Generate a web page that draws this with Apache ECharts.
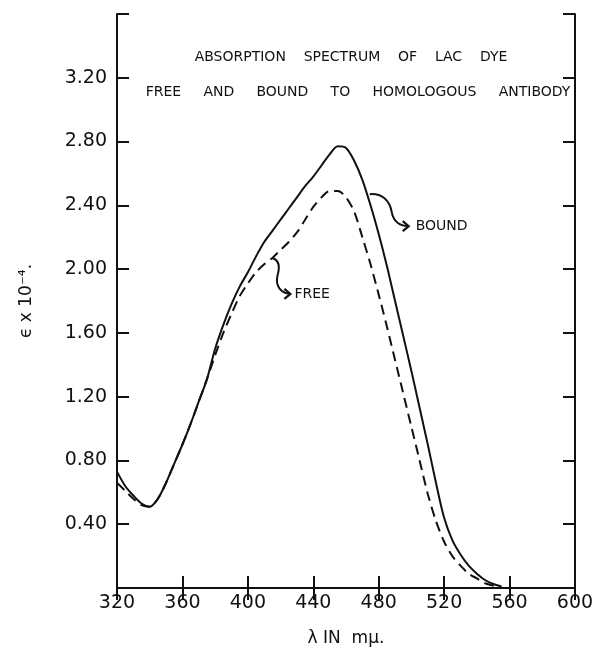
<!DOCTYPE html>
<html>
<head>
<meta charset="utf-8">
<script src="https://cdn.jsdelivr.net/npm/echarts@6/dist/echarts.min.js"></script>
<style>html,body{margin:0;padding:0;background:#fff;}#c{width:599px;height:653px;}</style>
</head>
<body>
<div id="c"></div>
<script>
// Wavelength (mμ) and extinction (ε × 10⁻⁴)
const wavelengths = [320,325,330,335,340,345,350,355,360,365,370,375,380,385,390,395,400,405,410,415,420,425,430,435,440,445,450,455,460,465,470,475,480,485,490,495,500,505,510,515,520,525,530,535,540,545,550,555];
const bound = [0.73,0.64,0.58,0.53,0.51,0.56,0.66,0.78,0.90,1.03,1.17,1.31,1.50,1.65,1.78,1.89,1.98,2.08,2.17,2.24,2.31,2.38,2.45,2.52,2.58,2.65,2.72,2.77,2.76,2.68,2.56,2.40,2.22,2.02,1.80,1.58,1.36,1.13,0.90,0.66,0.44,0.30,0.21,0.14,0.09,0.05,0.025,0.01];
const free = [0.66,0.61,0.56,0.52,0.51,0.56,0.66,0.78,0.90,1.03,1.17,1.31,1.46,1.60,1.72,1.83,1.91,1.98,2.03,2.07,2.12,2.17,2.23,2.31,2.39,2.45,2.49,2.49,2.45,2.36,2.20,2.03,1.84,1.64,1.43,1.22,1.01,0.80,0.59,0.42,0.29,0.20,0.14,0.09,0.06,0.03,0.015,0.005];
const titleLines = ['ABSORPTION    SPECTRUM    OF    LAC    DYE', 'FREE     AND     BOUND     TO     HOMOLOGOUS     ANTIBODY'];
const xName = 'λ IN  mμ.';
const yName = 'ϵ x 10⁻⁴.';
// annotation anchors (data coords)
const boundLabel = {text: 'BOUND', at: [474.5, 2.47]};
const freeLabel = {text: 'FREE', at: [415, 2.07]};

const font = 'DejaVu Sans';
const chart = echarts.init(document.getElementById('c'));
const axisLine = {show: true, lineStyle: {color: '#111', width: 2}};
const tick = {show: true, inside: true, length: 12, lineStyle: {color: '#111', width: 2}};
chart.setOption({
  animation: false,
  backgroundColor: '#fff',
  title: [
    {text: titleLines[0], left: 346, top: 45, textAlign: 'center', textStyle: {fontFamily: font, fontSize: 14, fontWeight: 'normal', color: '#111'}},
    {text: titleLines[1], left: 353, top: 80, textAlign: 'center', textStyle: {fontFamily: font, fontSize: 14, fontWeight: 'normal', color: '#111'}}
  ],
  grid: {left: 117, right: 24, top: 14, bottom: 65},
  xAxis: [
    {type: 'value', min: 320, max: 600, interval: 40, position: 'bottom',
     axisLine, axisTick: tick, splitLine: {show: false},
     axisLabel: {fontFamily: font, fontSize: 19, color: '#111', margin: 6},
     name: xName, nameLocation: 'middle', nameGap: 42,
     nameTextStyle: {fontFamily: font, fontSize: 17, color: '#111'}},
    {type: 'value', min: 320, max: 600, interval: 40, position: 'top',
     axisLine, axisTick: tick, splitLine: {show: false}, axisLabel: {show: false}}
  ],
  yAxis: [
    {type: 'value', min: 0, max: 3.6, interval: 0.4, position: 'left',
     axisLine, axisTick: tick, splitLine: {show: false},
     axisLabel: {fontFamily: font, fontSize: 19, color: '#111', margin: 10,
       formatter: v => (v < 0.01 || v > 3.5) ? '' : v.toFixed(2)},
     name: yName, nameLocation: 'middle', nameGap: 82, nameRotate: 90,
     nameTextStyle: {fontFamily: font, fontSize: 17, color: '#111'}},
    {type: 'value', min: 0, max: 3.6, interval: 0.4, position: 'right',
     axisLine, axisTick: tick, splitLine: {show: false}, axisLabel: {show: false}}
  ],
  series: [
    {name: 'BOUND', type: 'line', data: wavelengths.map((w, i) => [w, bound[i]]),
     smooth: 0.3, showSymbol: false, lineStyle: {color: '#111', width: 2}},
    {name: 'FREE', type: 'line', data: wavelengths.map((w, i) => [w, free[i]]),
     smooth: 0.3, showSymbol: false, lineStyle: {color: '#111', width: 2, type: [10, 6]}}
  ]
});

// curved arrow: two cubic bezier segments (offsets relative to anchor pixel)
function arrowGraphic(anchor, segs, textOff, text) {
  const p = chart.convertToPixel({gridIndex: 0}, anchor);
  const els = segs.map(s => ({
    type: 'bezierCurve', x: p[0], y: p[1],
    shape: {x1: s[0], y1: s[1], cpx1: s[2], cpy1: s[3], cpx2: s[4], cpy2: s[5], x2: s[6], y2: s[7]},
    style: {fill: null, stroke: '#111', lineWidth: 2}
  }));
  const last = segs[segs.length - 1];
  els.push({type: 'polyline', x: p[0] + last[6], y: p[1] + last[7],
    shape: {points: [[-6, -5], [0, 0], [-6, 5]]}, style: {fill: null, stroke: '#111', lineWidth: 2.2}});
  els.push({type: 'text', x: p[0] + textOff[0], y: p[1] + textOff[1],
    style: {text, fontFamily: font, fontSize: 14, fill: '#111', verticalAlign: 'middle', align: 'left'}});
  return els;
}
chart.setOption({
  graphic: [
    ...arrowGraphic(boundLabel.at, [[0,0,12,-1,20,6,22,18],[22,18,24,28,30,32,39,32]], [46, 32], boundLabel.text),
    ...arrowGraphic(freeLabel.at, [[0,0,6,2,8,8,5,18],[5,18,3,28,8,35,18,36]], [22, 36], freeLabel.text)
  ]
});
</script>
</body>
</html>
